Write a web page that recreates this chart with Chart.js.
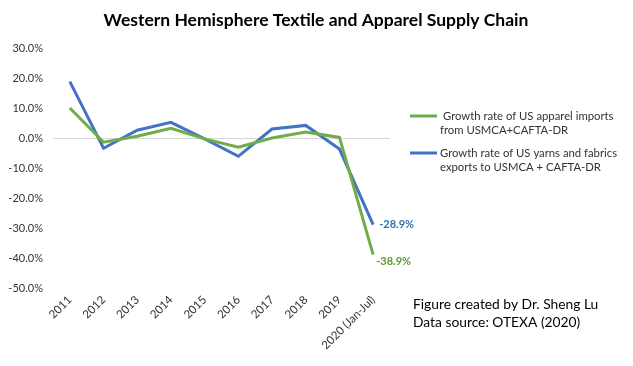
<!DOCTYPE html>
<html><head><meta charset="utf-8">
<script src="https://cdn.jsdelivr.net/npm/chart.js@4"></script>
<style>html,body{margin:0;padding:0;background:#fff}#wrap{width:633px;height:366px;position:relative}</style>
</head><body><div id="wrap"><canvas id="c" width="633" height="366"></canvas></div>
<script>
const categories = ["2011","2012","2013","2014","2015","2016","2017","2018","2019","2020 (Jan-Jul)"];
const apparelImports = [10.0,-1.4,0.6,3.2,-0.3,-3.1,0.0,2.0,0.2,-38.9];
const yarnFabricExports = [18.8,-3.4,2.6,5.2,-0.3,-6.1,3.0,4.2,-3.7,-28.9];
const yTicks = [30,20,10,0,-10,-20,-30,-40,-50];
const seriesNames = [["Growth rate of US apparel imports","from USMCA+CAFTA-DR"],["Growth rate of US yarns and fabrics","exports to USMCA + CAFTA-DR"]];
const titleText = "Western Hemisphere Textile and Apparel Supply Chain";
const noteLines = ["Figure created by Dr. Sheng Lu","Data source: OTEXA (2020)"];

const FONT = "Lato, 'Open Sans', sans-serif";
const GREEN = "#70AD47", BLUE = "#4472C4";

const extras = {
  id: "extras",
  afterDraw(chart) {
    const ctx = chart.ctx;
    const xs = chart.scales.x, ys = chart.scales.y;
    ctx.save();
    // title
    ctx.fillStyle = "#000";
    ctx.font = "bold 17.5px " + FONT;
    ctx.textAlign = "center"; ctx.textBaseline = "middle";
    ctx.fillText(titleText, 316, 20);
    // legend
    ctx.textAlign = "left";
    ctx.font = "11.3px " + FONT;
    const colors = [GREEN, BLUE];
    const ly = [116, 153];
    for (let i = 0; i < 2; i++) {
      ctx.strokeStyle = colors[i]; ctx.lineWidth = 3;
      ctx.beginPath(); ctx.moveTo(410, ly[i]); ctx.lineTo(437, ly[i]); ctx.stroke();
      ctx.fillStyle = "#333";
      seriesNames[i].forEach((t, j) => ctx.fillText(t, i === 0 ? (j === 0 ? 443 : 440) : 440, ly[i] + j * 14));
    }
    // notes
    ctx.fillStyle = "#000";
    ctx.font = "13.8px " + FONT;
    noteLines.forEach((t, j) => ctx.fillText(t, 413, 305 + j * 18));
    // data labels
    ctx.font = "bold 11px " + FONT;
    const last = categories.length - 1;
    const px = xs.getPixelForValue(last);
    ctx.fillStyle = "#2E75B6";
    ctx.fillText(yarnFabricExports[last].toFixed(1) + "%", px + 6, ys.getPixelForValue(yarnFabricExports[last]));
    ctx.fillStyle = "#5E9A34";
    ctx.fillText(apparelImports[last].toFixed(1) + "%", px + 3, ys.getPixelForValue(apparelImports[last]) + 7);
    ctx.restore();
  }
};

new Chart(document.getElementById("c"), {
  type: "line",
  data: {
    labels: categories,
    datasets: [
      { label: seriesNames[0].join(" "), data: apparelImports, borderColor: GREEN, borderWidth: 3, pointRadius: 0, tension: 0, fill: false },
      { label: seriesNames[1].join(" "), data: yarnFabricExports, borderColor: BLUE, borderWidth: 3, pointRadius: 0, tension: 0, fill: false }
    ]
  },
  options: {
    responsive: false, animation: false, devicePixelRatio: 1,
    layout: { padding: { top: 48, right: 243, left: 0, bottom: 0 } },
    plugins: { legend: { display: false }, tooltip: { enabled: false }, title: { display: false } },
    scales: {
      x: {
        offset: true,
        grid: { display: false, drawTicks: false },
        border: { display: false },
        ticks: { minRotation: 45, maxRotation: 45, autoSkip: false, color: "#333", font: { family: FONT, size: 11.5 }, padding: 5 },
        afterFit(s) { s.height = 78; }
      },
      y: {
        min: -50, max: 30,
        afterBuildTicks(s) { s.ticks = yTicks.map(v => ({ value: v })); },
        grid: { drawTicks: false, color: (c) => c.tick && c.tick.value === 0 ? "#D9D9D9" : "rgba(0,0,0,0)" },
        border: { display: false },
        ticks: { color: "#333", font: { family: FONT, size: 11 }, padding: 10, callback: (v) => Number(v).toFixed(1) + "%" },
        afterFit(s) { s.width = 53; }
      }
    }
  },
  plugins: [extras]
});
</script></body></html>
